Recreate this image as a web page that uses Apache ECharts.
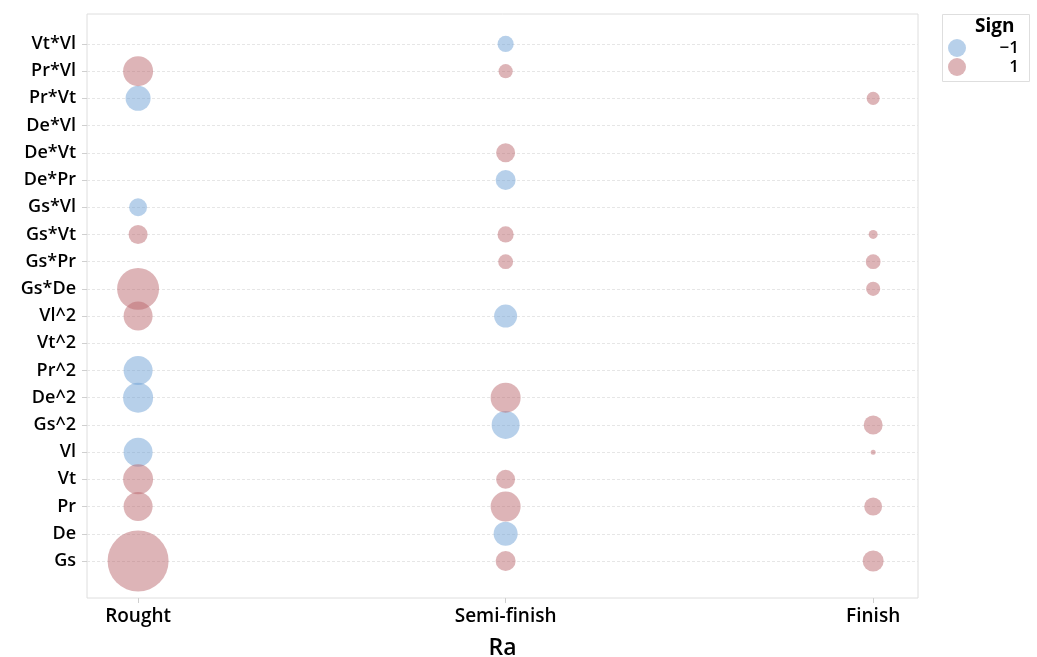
<!DOCTYPE html>
<html>
<head>
<meta charset="utf-8">
<script src="https://cdn.jsdelivr.net/npm/echarts@6/dist/echarts.min.js"></script>
<style>
  html, body { margin: 0; padding: 0; background: #fff; }
  #chart { width: 1037px; height: 657px; }
</style>
</head>
<body>
<div id="chart"></div>
<script>
// Model terms, listed bottom to top
const terms = ['Gs', 'De', 'Pr', 'Vt', 'Vl', 'Gs^2', 'De^2', 'Pr^2', 'Vt^2', 'Vl^2',
  'Gs*De', 'Gs*Pr', 'Gs*Vt', 'Gs*Vl', 'De*Pr', 'De*Vt', 'De*Vl', 'Pr*Vt', 'Pr*Vl', 'Vt*Vl'];
// Surface roughness classes
const stages = ['Rought', 'Semi-finish', 'Finish'];

// Signed effect magnitude of each term per stage (null = term not in model)
const rought = [37.2, null, 8.4, 9.0, -8.4, null, -9.0, -8.4, null, 8.4,
  17.6, null, 3.6, -3.2, null, null, null, -6.25, 9.0, null];
const semiFinish = [4.0, -5.8, 9.0, 3.6, null, -7.8, 9.0, null, null, -5.3,
  null, 2.2, 2.6, null, -4.0, 3.6, null, null, 2.0, -2.6];
const finish = [4.4, null, 3.2, null, 0.25, 3.6, null, null, null, null,
  2.0, 2.2, 0.8, null, null, null, null, 1.7, null, null];

const signNames = ['\u22121', '1'];
const columns = [rought, semiFinish, finish];

// Split the points by sign of the effect
const negPts = [], posPts = [];
columns.forEach((col, xi) => {
  col.forEach((v, yi) => {
    if (v === null) return;
    (v < 0 ? negPts : posPts).push([xi, yi, Math.abs(v)]);
  });
});

const font = '"Open Sans", "Noto Sans", sans-serif';
const chart = echarts.init(document.getElementById('chart'));
const idx = (n) => Array.from({ length: n }, (_, i) => i);

chart.setOption({
  animation: false,
  backgroundColor: '#fff',
  textStyle: { fontFamily: font },
  grid: {
    left: 87, right: 119, top: 14, bottom: 59,
    outerBoundsMode: 'none',
    show: true, borderColor: '#dedede', borderWidth: 1, backgroundColor: '#fff'
  },
  xAxis: {
    type: 'value', min: -0.139, max: 2.122,
    name: 'Ra', nameLocation: 'middle', nameGap: 39,
    nameTextStyle: { fontSize: 23, fontWeight: 600, color: '#000', fontFamily: font },
    axisLine: { show: false, onZero: false },
    axisTick: { show: true, length: 5, lineStyle: { color: '#cfcfcf' }, customValues: idx(3) },
    axisLabel: {
      customValues: idx(3), margin: 9, fontSize: 19, fontWeight: 600, color: '#000',
      fontFamily: font, formatter: (v) => stages[Math.round(v)]
    },
    splitLine: { show: false }
  },
  yAxis: {
    type: 'value', min: -1.36, max: 20.1,
    axisLine: { show: false, onZero: false },
    axisTick: { show: true, length: 5, lineStyle: { color: '#cfcfcf' }, customValues: idx(terms.length) },
    axisLabel: {
      customValues: idx(terms.length), margin: 11, fontSize: 18, fontWeight: 600, color: '#000',
      fontFamily: font, formatter: (v) => terms[Math.round(v)]
    },
    splitLine: { show: true, lineStyle: { color: '#e6e6e6', type: [3, 2], width: 1 } }
  },
  legend: {
    data: signNames,
    orient: 'vertical',
    left: 948, top: 39,
    itemWidth: 18, itemHeight: 18, itemGap: 1,
    icon: 'circle',
    padding: 0,
    formatter: (n) => '{t|' + n + '}',
    textStyle: {
      rich: { t: { width: 48, align: 'right', fontSize: 17, fontWeight: 600, color: '#000', fontFamily: font } }
    }
  },
  graphic: [
    {
      type: 'rect', left: 942, top: 14,
      shape: { width: 87, height: 67 },
      style: { fill: '#fff', stroke: '#dedede', lineWidth: 1 },
      z: -1
    },
    {
      type: 'text', left: 975, top: 17,
      style: { text: 'Sign', fontSize: 19, fontWeight: 700, fill: '#000', fontFamily: font }
    }
  ],
  series: [
    {
      name: signNames[0], type: 'scatter', data: negPts,
      symbolSize: (v) => 10 * Math.sqrt(v[2]),
      itemStyle: { color: 'rgba(110,160,212,0.62)' }
    },
    {
      name: signNames[1], type: 'scatter', data: posPts,
      symbolSize: (v) => 10 * Math.sqrt(v[2]),
      itemStyle: { color: 'rgba(186,104,110,0.62)' }
    }
  ]
});
</script>
</body>
</html>
